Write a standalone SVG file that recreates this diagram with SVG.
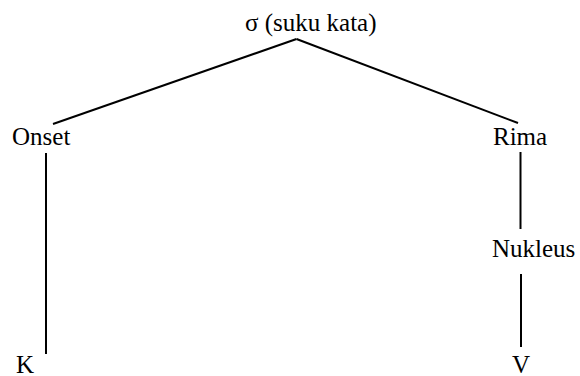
<svg xmlns="http://www.w3.org/2000/svg" width="580" height="376" viewBox="0 0 580 376">
<style>
text{font-family:"Liberation Serif","Times New Roman",serif;font-size:25px;fill:#000}
line{stroke:#000;stroke-width:2}
</style>
<rect width="580" height="376" fill="#fff"/>
<g id="connectors">
<line x1="296.5" y1="39" x2="53" y2="124"/>
<line x1="296.5" y1="39" x2="518" y2="123"/>
<line x1="46" y1="153" x2="46" y2="354"/>
<line x1="520.5" y1="152" x2="520.5" y2="229"/>
<line x1="521" y1="274" x2="521" y2="347"/>
</g>
<g id="sigma"><text x="245" y="31">σ (suku kata)</text></g>
<g id="onset"><text x="12" y="145">Onset</text></g>
<g id="rima"><text x="493" y="145">Rima</text></g>
<g id="nukleus"><text x="492" y="257">Nukleus</text></g>
<g id="k"><text x="16" y="373">K</text></g>
<g id="v"><text x="512" y="373">V</text></g>
</svg>
